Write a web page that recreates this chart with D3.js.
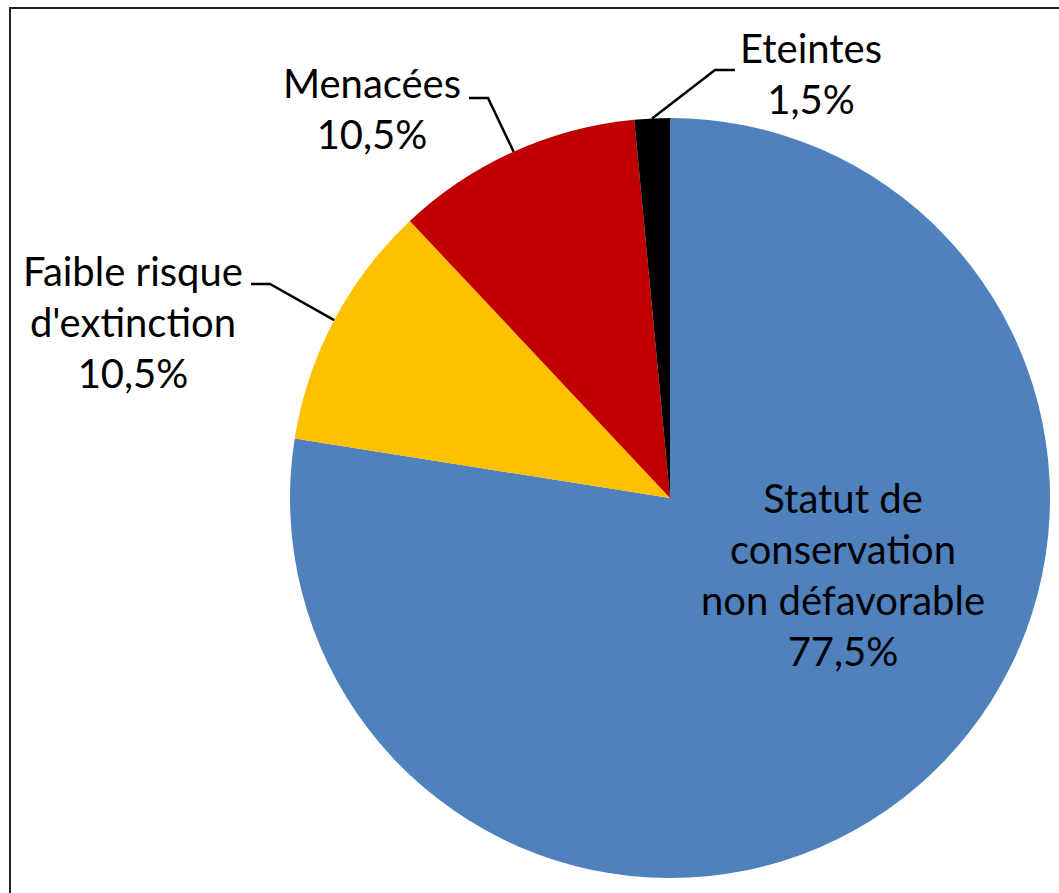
<!DOCTYPE html>
<html>
<head>
<meta charset="utf-8">
<script src="https://cdn.jsdelivr.net/npm/d3@7"></script>
<style>
  body { margin: 0; background: #fff; }
  svg { display: block; }
  text { font-family: Lato, "Open Sans", sans-serif; font-size: 40px; fill: #000; }
</style>
</head>
<body>
<svg id="chart" width="1059" height="893"></svg>
<script>
const categories = ["Statut de conservation non défavorable", "Faible risque d'extinction", "Menacées", "Eteintes"];
const values = [77.5, 10.5, 10.5, 1.5];
const labelLines = [
    ["Statut de", "conservation", "non défavorable", "77,5%"],
    ["Faible risque", "d'extinction", "10,5%"],
    ["Menacées", "10,5%"],
    ["Eteintes", "1,5%"]
];
const colors = ["#4F81BD", "#FFC000", "#C00000", "#000000"];

const width = 1059, height = 893;
const cx = 670, cy = 498, radius = 380;
const lineH = 51;

// where each label block sits (centre x, first baseline) and its elbow
const labelPos = [
    { x: 843, y: 513, leader: null },
    { x: 133, y: 286, leader: { x0: 251, x1: 270, y: 284 } },
    { x: 372, y: 98, leader: { x0: 469, x1: 488, y: 98 } },
    { x: 811, y: 63, leader: { x0: 735, x1: 715, y: 70 } }
];

const svg = d3.select("#chart");

svg.append("rect")
    .attr("x", 10)
    .attr("y", 8)
    .attr("width", width + 20)
    .attr("height", height + 20)
    .attr("fill", "#fff")
    .attr("stroke", "#222")
    .attr("stroke-width", 2);

let data = categories.map((c, i) => ({ name: c, value: values[i], index: i }));

let pie = d3.pie()
    .sort(null)
    .value(d => d.value);

let arc = d3.arc()
    .innerRadius(0)
    .outerRadius(radius);

let edge = d3.arc()
    .innerRadius(radius)
    .outerRadius(radius);

let g = svg.append("g")
    .attr("transform", `translate(${cx}, ${cy})`);

let arcs = pie(data);

g.selectAll("path.slice")
    .data(arcs)
    .enter().append("path")
    .attr("class", "slice")
    .attr("d", arc)
    .attr("fill", d => colors[d.data.index]);

// leader lines: from elbow to the middle of the slice edge
arcs.forEach((d, i) => {
    let lp = labelPos[i].leader;
    if (!lp) return;
    let c = edge.centroid(d);
    svg.append("polyline")
        .attr("points", `${lp.x0},${lp.y} ${lp.x1},${lp.y} ${cx + c[0]},${cy + c[1]}`)
        .attr("fill", "none")
        .attr("stroke", "#000")
        .attr("stroke-width", 2.5);
});

let labels = svg.selectAll("text.label")
    .data(labelLines)
    .enter().append("text")
    .attr("class", "label")
    .attr("text-anchor", "middle")
    .attr("x", (_, i) => labelPos[i].x)
    .attr("y", (_, i) => labelPos[i].y);

labels.selectAll("tspan")
    .data(d => d)
    .enter().append("tspan")
    .attr("x", function() { return this.parentNode.getAttribute("x"); })
    .attr("dy", (_, j) => j === 0 ? 0 : lineH)
    .text(d => d);
</script>
</body>
</html>
